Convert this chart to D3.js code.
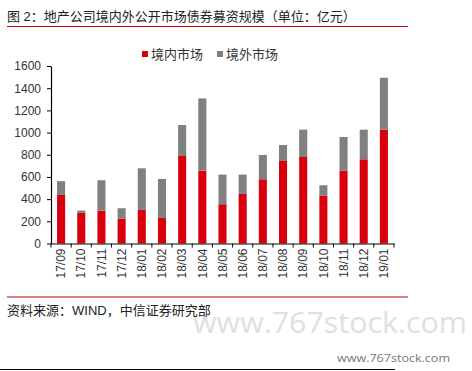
<!DOCTYPE html>
<html lang="zh-CN">
<head>
<meta charset="UTF-8">
<script src="https://d3js.org/d3.v7.min.js"></script>
<style>
  body { margin: 0; padding: 0; background: #fff; }
  svg { display: block; font-family: "Liberation Sans", Arial, "Noto Sans CJK SC", sans-serif; }
</style>
</head>
<body>
<div id="chart"></div>
<script>
// 月份
const months = ["17/09","17/10","17/11","17/12","18/01","18/02","18/03","18/04","18/05",
                "18/06","18/07","18/08","18/09","18/10","18/11","18/12","19/01"];
// 境内市场（亿元）
const domestic = [438, 276, 297, 225, 303, 231, 789, 657, 354, 447, 579, 744, 780, 432, 657, 759, 1026];
// 境外市场（亿元）
const overseas = [124, 21, 273, 93, 375, 351, 279, 651, 267, 174, 219, 144, 246, 93, 303, 267, 468];
const yTicks = [0, 200, 400, 600, 800, 1000, 1200, 1400, 1600];
const seriesNames = ["境内市场", "境外市场"];
const colors = ["#d9000d", "#808080"];

const W = 472, H = 371;
const svg = d3.select("#chart").append("svg").attr("width", W).attr("height", H);

// 标题
svg.append("text").attr("x", 7).attr("y", 21)
  .attr("font-size", 13).attr("fill", "#222")
  .text("图 2：地产公司境内外公开市场债券募资规模（单位：亿元）");
svg.append("line").attr("x1", 7).attr("x2", 408).attr("y1", 26.5).attr("y2", 26.5)
  .attr("stroke", "#c00000").attr("stroke-width", 1);

// 水印
svg.append("text").attr("x", 193).attr("y", 333)
  .attr("font-size", 29).attr("fill", "#e0e0e0")
  .attr("font-family", "'Open Sans', 'DejaVu Sans', sans-serif")
  .attr("textLength", 274).attr("lengthAdjust", "spacingAndGlyphs")
  .text("www.767stock.com");
svg.append("text").attr("x", 337).attr("y", 362)
  .attr("font-size", 11).attr("fill", "#777")
  .attr("font-family", "'Open Sans', 'DejaVu Sans', sans-serif")
  .attr("textLength", 113).attr("lengthAdjust", "spacingAndGlyphs")
  .text("www.767stock.com");

const x = d3.scaleBand().domain(months).range([51, 394]).paddingInner(0.6).paddingOuter(0.3);
const y = d3.scaleLinear().domain([0, 1600]).range([243.5, 66]);

// 堆叠
const rows = months.map((m, i) => ({ month: m, d: domestic[i], o: overseas[i] }));
const stack = d3.stack().keys(["d", "o"])(rows);

const g = svg.append("g");
stack.forEach((layer, k) => {
  g.selectAll(".s" + k).data(layer).enter().append("rect")
    .attr("x", d => x(d.data.month))
    .attr("width", x.bandwidth())
    .attr("y", d => y(d[1]))
    .attr("height", d => y(d[0]) - y(d[1]))
    .attr("fill", colors[k]);
});

// Y轴
const yAxis = svg.append("g").attr("transform", "translate(51,0)")
  .call(d3.axisLeft(y).tickValues(yTicks).tickSize(4).tickSizeOuter(0).tickFormat(d3.format("d")));
yAxis.select(".domain").attr("stroke", "#000").attr("stroke-width", 1.2);
yAxis.selectAll(".tick line").attr("stroke", "#000");
yAxis.selectAll("text").attr("font-size", 12).attr("fill", "#333")
  .attr("font-family", "'Liberation Sans', Arial, sans-serif").attr("x", -10);

// X轴
const xAxis = svg.append("g").attr("transform", "translate(0,243.5)")
  .call(d3.axisBottom(x).tickSize(0).tickSizeOuter(0));
xAxis.select(".domain").attr("stroke", "#000").attr("stroke-width", 1.2);
// 分隔刻度
months.concat([null]).forEach((m, i) => {
  const px = m ? x(m) - x.step() * x.paddingInner() / 2 : 394;
  xAxis.append("line").attr("x1", px).attr("x2", px).attr("y1", 0).attr("y2", 4).attr("stroke", "#000");
});
xAxis.selectAll("text")
  .attr("font-size", 12).attr("fill", "#333")
  .attr("font-family", "'Liberation Sans', Arial, sans-serif")
  .attr("transform", "rotate(-90)")
  .attr("text-anchor", "end")
  .attr("x", -5).attr("y", 0).attr("dy", "0.35em");

// 图例
const legend = svg.append("g").attr("transform", "translate(142,54)");
const legX = [0, 75];
seriesNames.forEach((name, i) => {
  legend.append("rect").attr("x", legX[i]).attr("y", -3).attr("width", 6).attr("height", 6).attr("fill", colors[i]);
  legend.append("text").attr("x", legX[i] + 9).attr("y", 4.5)
    .attr("font-size", 13).attr("fill", "#333").text(name);
});

// 资料来源
svg.append("line").attr("x1", 7).attr("x2", 408).attr("y1", 297).attr("y2", 297)
  .attr("stroke", "#c00000").attr("stroke-width", 1);
svg.append("text").attr("x", 7).attr("y", 315)
  .attr("font-size", 13).attr("fill", "#222")
  .text("资料来源：WIND，中信证券研究部");
svg.append("line").attr("x1", 0).attr("x2", 395).attr("y1", 369.5).attr("y2", 369.5)
  .attr("stroke", "#000").attr("stroke-width", 1);
</script>
</body>
</html>
